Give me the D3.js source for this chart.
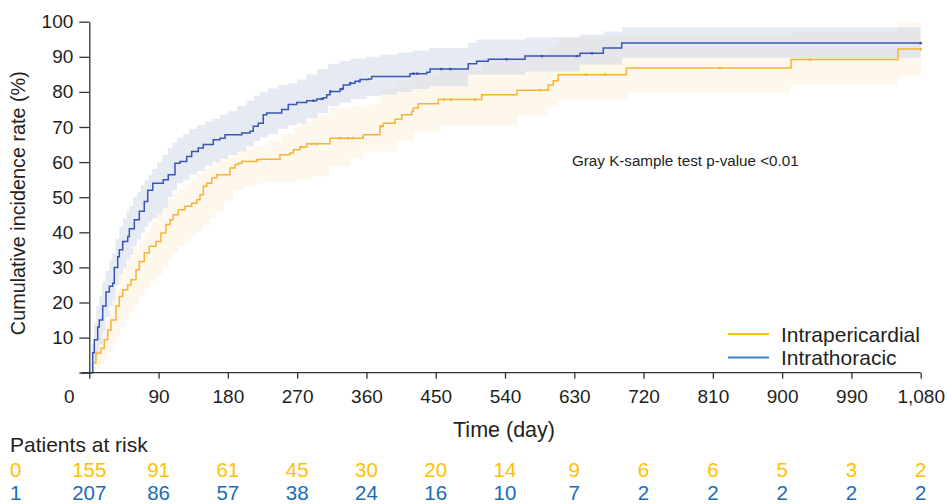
<!DOCTYPE html>
<html><head><meta charset="utf-8">
<script src="https://cdn.jsdelivr.net/npm/d3@7"></script>
<style>
html,body{margin:0;padding:0;background:#fff;}
svg{display:block;font-family:"Liberation Sans",Arial,sans-serif;}
</style></head>
<body><svg id="chart" width="947" height="504"></svg>
<script>
// ---------- DATA ----------
const seriesNames = ["Intrapericardial", "Intrathoracic"];
const groupCodes = ["0", "1"];
const xTicks = [0, 90, 180, 270, 360, 450, 540, 630, 720, 810, 900, 990, 1080];
const yTicks = [0, 10, 20, 30, 40, 50, 60, 70, 80, 90, 100];

// step curves: [day, cumulative incidence %]
const intrapericardialSteps = [
  [0,0],[4.4,2.8],[8.7,5.6],[15.2,7],[19.5,9.4],[23.9,12.2],[28.2,15],[34.7,19],[39,21.7],
  [43.4,23.6],[49.9,25],[54.2,26.5],[60.7,29.3],[65,31.7],[71.4,34.1],[77.9,36],[86.6,37.4],
  [93.1,39.8],[99.6,42.2],[104.8,43.6],[109.1,45],[115.6,46.4],[124.3,47.4],[133,48.3],
  [139.5,49.3],[143.8,50.7],[148.1,53.1],[152.5,54],[159,55.5],[165.5,56.4],[182.8,58.3],
  [189.3,59.3],[193.6,59.7],[198,60.2],[217.5,60.7],[221.7,60.8],[247.7,62.1],[260.7,62.6],
  [265,63.5],[273.7,64.3],[282.4,65.2],[312.7,66.8],[355.9,67.8],[377.6,70.2],[381.9,71.1],
  [397.1,72.2],[405.8,73.5],[418.8,74.4],[420.9,75.4],[427.4,76.6],[453.4,77.8],[509.7,79.2],
  [555.6,80.5],[596.2,82],[602.7,83.2],[609.2,84.9],[697.8,86.8],[911.5,89.2],[1050.5,92.2],[1080,92.2]
];
const intrathoracicSteps = [
  [0,0],[4.4,5.7],[6.5,9.4],[10.9,13],[13,15],[17.4,19],[21.7,23],[26,24.6],[30.4,25.5],
  [32.5,30],[36.9,33],[39,35],[43.4,37.4],[49.9,38.8],[52,41],[58.5,43.6],[65,46],[71.4,48.8],
  [75.9,52],[82.4,54],[96.1,55],[102.6,56.4],[111.3,59.7],[117.8,60.2],[126.5,61.6],[133,63],
  [141.6,64],[148.1,65],[161.1,66.4],[169.8,66.8],[176.3,67.8],[198,68.3],[208.8,68.8],[213,70.2],
  [219.5,71.1],[226,73.5],[230.4,74],[249.9,75],[258.5,76.4],[269.4,77],[282.4,77.5],[295.4,78],
  [304,78.3],[308.4,79.2],[312.7,80.1],[325.7,80.8],[330,82],[338.7,82.5],[345.2,83],[351.7,83.5],
  [362.4,83.7],[366.8,84.4],[416.6,85.2],[438.3,85.6],[442.6,86.5],[492.3,88],[503.2,88.7],
  [518.3,89.3],[566,90.2],[637.5,91],[667.7,92.5],[691.6,93.9],[1080,93.9]
];

// confidence bands: [day, lower %, upper %]
const intrapericardialBand = [
  [0,0,0],[4,0.5,6],[9,1,10],[15,2.5,12.5],[20,4,15],[25,6,17.5],[30,8,21],[35,10,24],[40,13,28.5],
  [46,15,31],[52,17,33],[58,19.5,35.5],[65,21.7,37.9],[72,24,40],[80,26,43],[87,28,45],[95,30,47],
  [102,32.5,49.5],[108,34,51],[116,36,52.5],[124,37.5,54],[132,39,55.5],[139,40,56.4],[148,42,58],
  [156,44,59.5],[164,46,60.5],[175,49,61.5],[187,52,62.5],[200,53,63.5],[215,54,64.5],[230,54.5,66],
  [250,54.5,68],[265,54.5,70],[275,55,71.5],[290,56,73.5],[312,58.8,75.5],[340,61,76],[356,63,76.5],
  [378,63,81],[400,66,83],[421,68.7,84.5],[455,70.5,86],[510,70.5,89.7],[556,73.3,91],[595,75.9,93],
  [609,77.8,95.8],[698,79.7,96.5],[911,82,97],[1050,84.4,100],[1080,84.4,100]
];
const intrathoracicBand = [
  [0,0,0],[3,1,8],[6,3,14],[9,5,19],[13,8,22],[17,12,26],[21,16,29],[26,19,32],[30,21,34],[34,25,38],
  [39,28,41.5],[44,30,44],[48,32,46],[52,33.5,47.5],[57,36,50],[62,38,51.5],[67,40,53.5],[72,41.5,55],
  [77,43,56.5],[82,44,58],[88,45,60],[95,47,62],[102,50,64],[108,52,65.5],[114,54,67],[122,55,68],
  [130,56.5,69.5],[140,57.5,70.5],[150,59,71.5],[160,60,72.5],[170,61,73.5],[180,62,74.5],[192,63,76],
  [204,64.5,77.5],[214,66,79],[222,67,80],[232,68,81],[245,69.5,82],[258,70.5,82.5],[270,71,83.5],
  [282,72.5,85],[296,74,86.5],[310,76,88],[325,77,88.8],[340,78,89.5],[360,78.8,90],[378,79.2,90.6],
  [400,80,91.2],[420,80.8,91.8],[442,81.6,92.5],[492,84.9,93.9],[503,84.9,94.9],[566,85.8,95.5],
  [637,87.7,96.3],[668,87.7,97.2],[692,89.7,98.4],[1080,89.7,98.4]
];

// censoring marks (days)
const intrapericardialCensor = [275,289,295,325,336,342,379,461,470,501,585,645,670,819,936,1080];
const intrathoracicCensor = [291,302,313,328,339,351,421,426,457,469,542,588,633,653,1080];

// patients at risk
const riskIntrapericardial = [155,91,61,45,30,20,14,9,6,6,5,3,2];
const riskIntrathoracic = [207,86,57,38,24,16,10,7,2,2,2,2,2];

const pText = "Gray K-sample test p-value <0.01";

// ---------- STYLE ----------
const textColor = "#231f20";
const lineColors = ["#f8b334", "#3a56b4"];
const legendColors = ["#ffc000", "#3d86c6"];
const tableColors = ["#ffc000", "#1a6db5"];
const bandColors = ["#f7dfae", "#d2d8e8"];
const bandOpacity = [0.24, 0.55];

const svg = d3.select("#chart");
const x = d3.scaleLinear().domain([0, 1080]).range([89.3, 920.7]);
const y = d3.scaleLinear().domain([0, 100]).range([372.7, 21.7]);

// bands
const area = d3.area().curve(d3.curveStepAfter)
  .x(d => x(d[0])).y0(d => y(d[1])).y1(d => y(d[2]));
[intrapericardialBand, intrathoracicBand].forEach((b, i) => {
  svg.append("path").attr("d", area(b))
    .attr("fill", bandColors[i]).attr("fill-opacity", bandOpacity[i]);
});

// step lines
const line = d3.line().curve(d3.curveStepAfter).x(d => x(d[0])).y(d => y(d[1]));
const stepsAll = [intrapericardialSteps, intrathoracicSteps];
const censAll = [intrapericardialCensor, intrathoracicCensor];
stepsAll.forEach((s, i) => {
  svg.append("path").attr("d", line(s)).attr("fill", "none")
    .attr("stroke", lineColors[i]).attr("stroke-width", 1.5);
});
// censor marks
function valueAt(steps, t) {
  let v = 0;
  for (const [d, p] of steps) { if (d <= t) v = p; else break; }
  return v;
}
censAll.forEach((c, i) => {
  svg.append("g").selectAll("line").data(c).join("line")
    .attr("x1", d => x(d)).attr("x2", d => x(d))
    .attr("y1", d => y(valueAt(stepsAll[i], d)) - 1.2)
    .attr("y2", d => y(valueAt(stepsAll[i], d)) + 1.2)
    .attr("stroke", lineColors[i]).attr("stroke-width", 2.4);
});

// axes
const fontSize = 19;
const yAxis = d3.axisLeft(y).tickValues(yTicks).tickSize(10).tickSizeOuter(0)
  .tickFormat(d => d === 0 ? "" : d);
const gy = svg.append("g").attr("transform", `translate(${x(0)},0)`).call(yAxis);
gy.select(".domain").attr("stroke", "#333").attr("stroke-width", 1.3);
gy.selectAll(".tick line").attr("stroke", "#333").attr("stroke-width", 1.3);
gy.selectAll(".tick text").attr("font-size", fontSize).attr("fill", textColor)
  .attr("font-family", "Liberation Sans, Arial, sans-serif").attr("x", -16);

const xAxis = d3.axisBottom(x).tickValues(xTicks).tickSize(6).tickSizeOuter(0)
  .tickFormat(d => d === 0 ? "" : d3.format(",")(d));
const gx = svg.append("g").attr("transform", `translate(0,${y(0)})`).call(xAxis);
gx.select(".domain").remove();
gx.append("line").attr("x1", x(0) - 8).attr("x2", x(1080)).attr("y1", 0).attr("y2", 0)
  .attr("stroke", "#333").attr("stroke-width", 1.3);
gx.selectAll(".tick line").attr("stroke", "#333").attr("stroke-width", 1.3);
gx.selectAll(".tick text").attr("font-size", fontSize).attr("fill", textColor)
  .attr("font-family", "Liberation Sans, Arial, sans-serif").attr("dy", "0").attr("y", 30);
// origin "0"
svg.append("text").attr("x", x(0) - 20).attr("y", y(0) + 30).attr("text-anchor", "middle")
  .attr("font-size", fontSize).attr("fill", textColor).text("0");

// axis titles
svg.append("text").attr("transform", `translate(25,${y(50) + 6}) rotate(-90)`)
  .attr("text-anchor", "middle").attr("font-size", 19.8).attr("fill", textColor)
  .text("Cumulative incidence rate (%)");
svg.append("text").attr("x", x(540) - 1).attr("y", 437).attr("text-anchor", "middle")
  .attr("font-size", 21.5).attr("fill", textColor).text("Time (day)");

// p-value text
svg.append("text").attr("x", 572).attr("y", 166).attr("font-size", 15.2)
  .attr("fill", textColor).text(pText);

// legend
const legendY = [334, 357.5];
seriesNames.forEach((n, i) => {
  svg.append("line").attr("x1", 728).attr("x2", 769).attr("y1", legendY[i]).attr("y2", legendY[i])
    .attr("stroke", legendColors[i]).attr("stroke-width", 2);
  svg.append("text").attr("x", 781).attr("y", legendY[i] + 7.5).attr("font-size", 21)
    .attr("fill", textColor).text(n);
});

// risk table
svg.append("text").attr("x", 10).attr("y", 452).attr("font-size", 21)
  .attr("fill", textColor).text("Patients at risk");
const rows = [riskIntrapericardial, riskIntrathoracic];
const rowY = [477, 500];
rows.forEach((r, i) => {
  svg.append("text").attr("x", 10).attr("y", rowY[i]).attr("font-size", 20.5)
    .attr("fill", tableColors[i]).text(groupCodes[i]);
  svg.append("g").selectAll("text").data(r).join("text")
    .attr("x", (d, j) => x(xTicks[j])).attr("y", rowY[i]).attr("text-anchor", "middle")
    .attr("font-size", 20.5).attr("fill", tableColors[i]).text(d => d);
});
</script></body></html>
